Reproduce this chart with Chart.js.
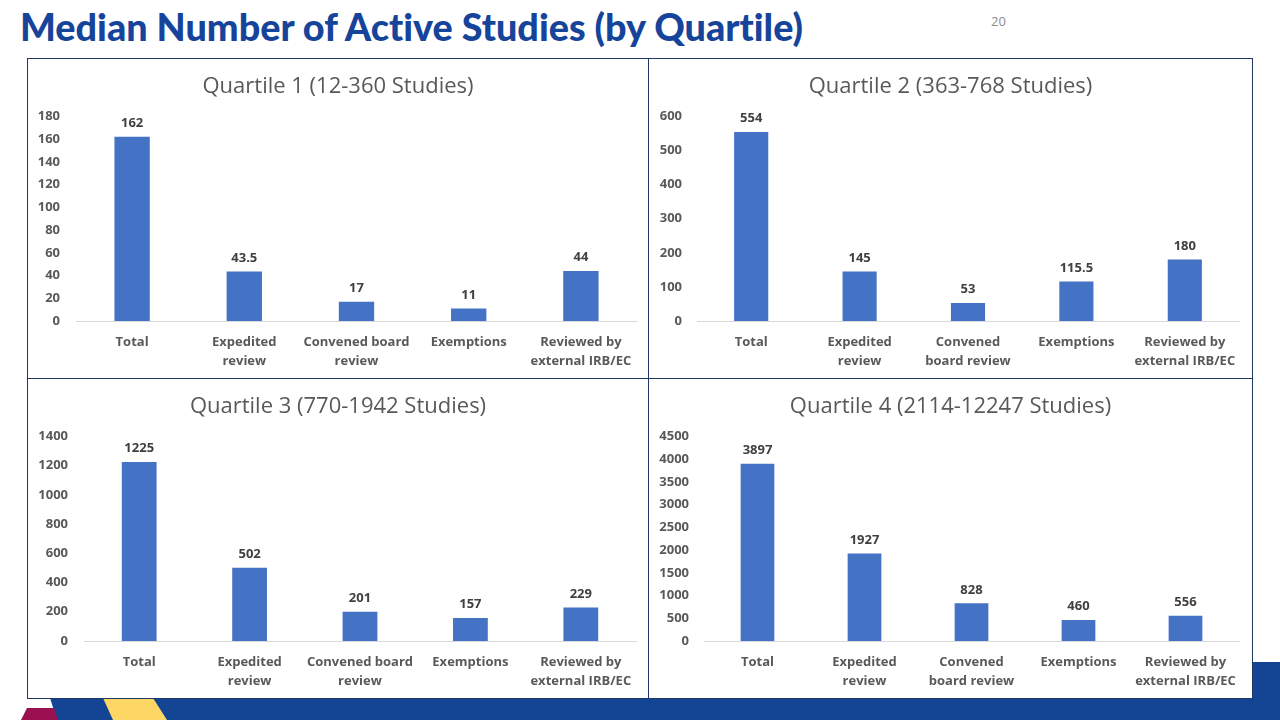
<!DOCTYPE html>
<html>
<head>
<meta charset="utf-8">
<script src="https://cdn.jsdelivr.net/npm/chart.js@4.4.1/dist/chart.umd.min.js"></script>
<style>
  html, body { margin: 0; padding: 0; width: 1280px; height: 720px; overflow: hidden; background: #fff; font-family: "Open Sans", sans-serif; }
  #title { position: absolute; left: 20px; top: 3px; font-family: Lato, sans-serif; font-weight: 900; font-size: 38px; color: #17449b; white-space: nowrap; transform-origin: 0 0; font-variant-ligatures: none; }
  #pnum { position: absolute; left: 991px; top: 12px; font-size: 13px; color: #8c8c8c; font-family: "Open Sans", sans-serif; }
  #band { position: absolute; left: 0; top: 0; width: 1280px; height: 720px; }
  .cell { position: absolute; background: #fff; box-sizing: border-box; border: 1px solid #1f3864; }
  .cell canvas { display: block; }
</style>
</head>
<body>
<svg id="band" width="1280" height="720">
  <polygon points="40,662 1280,662 1280,720 57,720 50,698 40,698" fill="#134594"/>
  <polygon points="103,698 153,698 167,720 113,720" fill="#fdd766"/>
  <polygon points="27,708 54,708 58,720 21,720" fill="#9b1050"/>
</svg>
<div id="title">Median Number of Active Studies (by Quartile)</div>
<div id="pnum">20</div>
<div class="cell" style="left:27px;top:58px;width:622px;height:321px;"><canvas id="c1"></canvas></div>
<div class="cell" style="left:648px;top:58px;width:605px;height:321px;"><canvas id="c2"></canvas></div>
<div class="cell" style="left:27px;top:378px;width:622px;height:321px;"><canvas id="c3"></canvas></div>
<div class="cell" style="left:648px;top:378px;width:605px;height:321px;"><canvas id="c4"></canvas></div>
<script>
// ---- data ----
const categories = ['Total', 'Expedited review', 'Convened board review', 'Exemptions', 'Reviewed by external IRB/EC'];
const labelsQ1 = ['Total', ['Expedited', 'review'], ['Convened board', 'review'], 'Exemptions', ['Reviewed by', 'external IRB/EC']];
const labelsQ2 = ['Total', ['Expedited', 'review'], ['Convened', 'board review'], 'Exemptions', ['Reviewed by', 'external IRB/EC']];
const labelsQ3 = ['Total', ['Expedited', 'review'], ['Convened board', 'review'], 'Exemptions', ['Reviewed by', 'external IRB/EC']];
const labelsQ4 = ['Total', ['Expedited', 'review'], ['Convened', 'board review'], 'Exemptions', ['Reviewed by', 'external IRB/EC']];
const valuesQ1 = [162, 43.5, 17, 11, 44];
const valuesQ2 = [554, 145, 53, 115.5, 180];
const valuesQ3 = [1225, 502, 201, 157, 229];
const valuesQ4 = [3897, 1927, 828, 460, 556];
const titles = ['Quartile 1 (12-360 Studies)', 'Quartile 2 (363-768 Studies)', 'Quartile 3 (770-1942 Studies)', 'Quartile 4 (2114-12247 Studies)'];
const yMax = [180, 600, 1400, 4500];
const yStep = [20, 100, 200, 500];

const FONT = '"Open Sans"';

const valueLabels = {
  id: 'valueLabels',
  afterDatasetsDraw(chart) {
    const ctx = chart.ctx;
    const meta = chart.getDatasetMeta(0);
    const data = chart.data.datasets[0].data;
    ctx.save();
    ctx.font = 'bold 13px "Open Sans"';
    ctx.fillStyle = '#404040';
    ctx.textAlign = 'center';
    ctx.textBaseline = 'bottom';
    meta.data.forEach((bar, i) => {
      ctx.fillText(String(data[i]), bar.x, bar.y - 7);
    });
    ctx.restore();
  }
};

function makeChart(id, w, labels, values, title, max, step, lay) {
  const cv = document.getElementById(id);
  cv.width = w; cv.height = 319;
  cv.style.width = w + 'px'; cv.style.height = '319px';
  return new Chart(cv, {
    type: 'bar',
    data: {
      labels: labels,
      datasets: [{ data: values, backgroundColor: '#4472c4', barPercentage: 0.315, categoryPercentage: 1.0 }]
    },
    plugins: [valueLabels],
    options: {
      responsive: false,
      animation: false,
      devicePixelRatio: 1,
      layout: { padding: 0 },
      plugins: {
        legend: { display: false },
        tooltip: { enabled: false },
        title: {
          display: true, text: title, color: '#595959',
          font: { family: FONT, size: 22, weight: 'normal', lineHeight: 1.2 },
          padding: { top: 15, bottom: 16 }
        }
      },
      scales: {
        x: {
          grid: { display: false, drawTicks: false },
          border: { display: true, color: '#d9d9d9', width: 1 },
          ticks: { color: '#595959', font: { family: FONT, size: 13, weight: 'bold', lineHeight: 1.45 }, padding: 12, maxRotation: 0, autoSkip: false },
          afterFit: s => { s.height = 57; }
        },
        y: {
          min: 0, max: max,
          grid: { display: false, drawTicks: false },
          border: { display: false },
          ticks: { stepSize: step, color: '#595959', font: { family: FONT, size: 13, weight: 'bold' }, padding: lay.p, callback: v => String(v) },
          afterFit: s => { s.width = lay.w; }
        },
        yRight: {
          position: 'right', display: true,
          grid: { display: false, drawTicks: false },
          border: { display: false },
          ticks: { display: false },
          afterFit: s => { s.width = lay.r; }
        }
      }
    }
  });
}

function fitTitle() {
  const t = document.getElementById('title');
  const w = t.getBoundingClientRect().width;
  t.style.transform = 'scaleX(' + (783 / w) + ')';
}

const go = () => {
  fitTitle();
  makeChart('c1', 620, labelsQ1, valuesQ1, titles[0], yMax[0], yStep[0], { w: 48, r: 11, p: 16 });
  makeChart('c2', 603, labelsQ2, valuesQ2, titles[1], yMax[1], yStep[1], { w: 48, r: 13, p: 15 });
  makeChart('c3', 620, labelsQ3, valuesQ3, titles[2], yMax[2], yStep[2], { w: 56, r: 12, p: 16 });
  makeChart('c4', 603, labelsQ4, valuesQ4, titles[3], yMax[3], yStep[3], { w: 55, r: 13, p: 15 });
};
Promise.all([
  document.fonts.load('bold 13px "Open Sans"'),
  document.fonts.load('22px "Open Sans"'),
  document.fonts.load('900 38px Lato')
]).then(go, go);
</script>
</body>
</html>
